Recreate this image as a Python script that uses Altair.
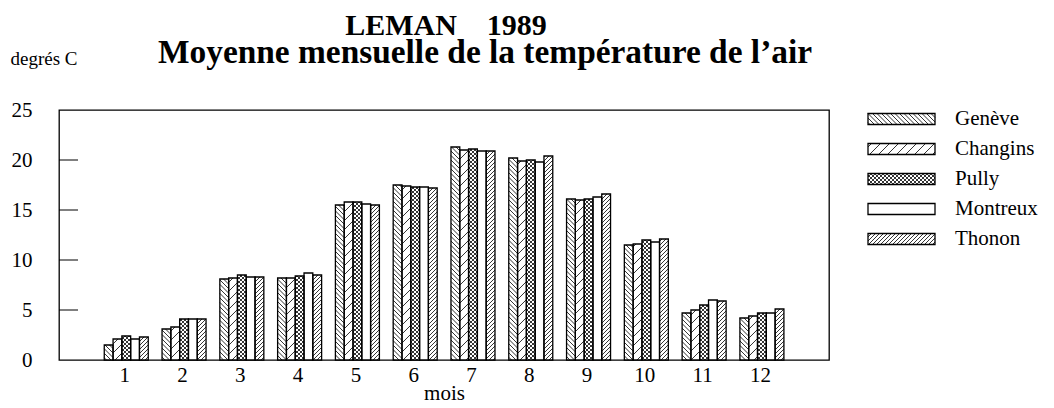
import math
import altair as alt
import pandas as pd

# ---------------- data ----------------
MONTHS = list(range(1, 13))
STATIONS = ["Genève", "Changins", "Pully", "Montreux", "Thonon"]
GENEVE = [1.5, 3.1, 8.1, 8.2, 15.5, 17.5, 21.3, 20.2, 16.1, 11.5, 4.7, 4.2]
CHANGINS = [2.1, 3.3, 8.2, 8.2, 15.8, 17.4, 21.0, 19.9, 16.0, 11.6, 5.0, 4.4]
PULLY = [2.4, 4.1, 8.5, 8.4, 15.8, 17.3, 21.1, 20.0, 16.1, 12.0, 5.5, 4.7]
MONTREUX = [2.1, 4.1, 8.3, 8.7, 15.6, 17.3, 20.9, 19.8, 16.3, 11.8, 6.0, 4.7]
THONON = [2.3, 4.1, 8.3, 8.5, 15.5, 17.2, 20.9, 20.4, 16.6, 12.1, 5.9, 5.1]
SERIES = [GENEVE, CHANGINS, PULLY, MONTREUX, THONON]
Y_TICKS = [0, 5, 10, 15, 20, 25]
TITLE_1 = "LEMAN\u00a0\u00a0\u00a0\u00a01989"
TITLE_2 = "Moyenne mensuelle de la température de l’air"
Y_TITLE = "degrés C"
X_TITLE = "mois"

# ---------------- layout (pixels) ----------------
W, H = 770, 250
X_MIN, X_MAX = -0.164, 13.161
Y_MAX = 25
KX = W / (X_MAX - X_MIN)
KY = H / Y_MAX
BAR_PX = 8.8
FONT = "Liberation Serif"
HATCH = {
    "Genève": [("\\", 4.5)],
    "Changins": [("/", 9.0)],
    "Pully": [("/", 4.0), ("\\", 4.0)],
    "Montreux": [],
    "Thonon": [("/", 4.0)],
}
LEG_X0, LEG_X1, LEG_TX = 809, 876, 896
LEG_ROW0, LEG_STEP, LEG_H = 9, 30, 11


def px_x(p):
    return p / KX + X_MIN


def px_y(p):
    return Y_MAX - p / KY


def hatch(x0, x1, y0, y1, d, direction):
    segs = []
    if direction == "/":  # x + y = c (pixel space, y down)
        k = math.ceil((x0 + y0) / d)
        while k * d <= x1 + y1:
            c = k * d
            xa, xb = max(x0, c - y1), min(x1, c - y0)
            if xb - xa > 0.2:
                segs.append((xa, c - xa, xb, c - xb))
            k += 1
    else:  # x - y = c
        k = math.ceil((x0 - y1) / d)
        while k * d <= x1 - y0:
            c = k * d
            xa, xb = max(x0, c + y0), min(x1, c + y1)
            if xb - xa > 0.2:
                segs.append((xa, xa - c, xb, xb - c))
            k += 1
    return segs


rects, lines, legend = [], [], []
for i, (name, vals) in enumerate(zip(STATIONS, SERIES)):
    for m, v in zip(MONTHS, vals):
        cx = (m - X_MIN) * KX + (i - 2) * BAR_PX
        x0, x1 = cx - BAR_PX / 2, cx + BAR_PX / 2
        y0, y1 = (Y_MAX - v) * KY, H
        rects.append({"x": px_x(x0), "x2": px_x(x1), "y": v, "y2": 0})
        for direction, d in HATCH[name]:
            for a, b, c, e in hatch(x0, x1, y0, y1, d, direction):
                lines.append({"x": px_x(a), "y": px_y(b), "x2": px_x(c), "y2": px_y(e)})
    # legend entry
    ry = LEG_ROW0 + LEG_STEP * i
    ly0, ly1 = ry - LEG_H / 2, ry + LEG_H / 2
    rects.append({"x": px_x(LEG_X0), "x2": px_x(LEG_X1), "y": px_y(ly0), "y2": px_y(ly1)})
    for direction, d in HATCH[name]:
        for a, b, c, e in hatch(LEG_X0, LEG_X1, ly0, ly1, d, direction):
            lines.append({"x": px_x(a), "y": px_y(b), "x2": px_x(c), "y2": px_y(e)})
    legend.append({"x": px_x(LEG_TX), "y": px_y(ry), "label": name})

rect_df = pd.DataFrame(rects)
line_df = pd.DataFrame(lines)
leg_df = pd.DataFrame(legend)

X = alt.X(
    "x:Q",
    scale=alt.Scale(domain=[X_MIN, X_MAX], nice=False, zero=False),
    axis=alt.Axis(
        values=MONTHS, format="d", tickSize=0, domain=False, grid=False,
        labelFont=FONT, labelFontSize=21, labelColor="black", labelPadding=4,
        labelOffset=-2, labelFlush=False, labelOverlap=False,
        title=X_TITLE, titleFont=FONT, titleFontSize=21, titleFontWeight="normal",
        titleColor="black", titlePadding=-3,
    ),
)
Y = alt.Y(
    "y:Q",
    scale=alt.Scale(domain=[0, Y_MAX], nice=False, zero=True),
    axis=alt.Axis(
        values=Y_TICKS, tickSize=0, domain=False, grid=False,
        labelFont=FONT, labelFontSize=21, labelColor="black", labelPadding=27,
        title=Y_TITLE, titleAngle=0, titleAlign="left", titleBaseline="alphabetic",
        titleX=-49, titleY=-46, titleFont=FONT, titleFontSize=19,
        titleFontWeight="normal", titleColor="black",
    ),
)

fills = alt.Chart(rect_df).mark_rect(fill="white", stroke=None).encode(x=X, x2="x2:Q", y=Y, y2="y2:Q")
hatches = alt.Chart(line_df).mark_rule(color="black", strokeWidth=0.8).encode(
    x=X, x2="x2:Q", y=Y, y2="y2:Q"
)
outlines = alt.Chart(rect_df).mark_rect(fill=None, fillOpacity=0, stroke="black", strokeWidth=1.3).encode(
    x=X, x2="x2:Q", y=Y, y2="y2:Q"
)
leg_text = alt.Chart(leg_df).mark_text(
    align="left", baseline="middle", font=FONT, fontSize=21, color="black"
).encode(x=X, y=Y, text="label:N")
ticks = alt.Chart(pd.DataFrame({"y": Y_TICKS[1:-1]})).mark_rule(color="black", strokeWidth=1).encode(
    y=Y, x=alt.value(0), x2=alt.value(19)
)
t1 = alt.Chart(pd.DataFrame({"t": [TITLE_1]})).mark_text(
    align="center", baseline="alphabetic", font=FONT, fontSize=30, fontWeight="bold", color="black"
).encode(text="t:N", x=alt.value(387), y=alt.value(-75))
t2 = alt.Chart(pd.DataFrame({"t": [TITLE_2]})).mark_text(
    align="center", baseline="alphabetic", font=FONT, fontSize=33.4, fontWeight="bold", color="black"
).encode(text="t:N", x=alt.value(426), y=alt.value(-47))

chart = (
    alt.layer(fills, hatches, outlines, ticks, leg_text, t1, t2)
    .properties(
        width=W, height=H,
        autosize=alt.AutoSizeParams(type="none"),
        padding={"left": 51, "top": 102, "right": 210, "bottom": 46},
        background="white",
    )
    .configure_view(stroke="black", strokeWidth=1.3)
)

chart.save("out.html", embed_options={"renderer": "svg", "actions": False})
